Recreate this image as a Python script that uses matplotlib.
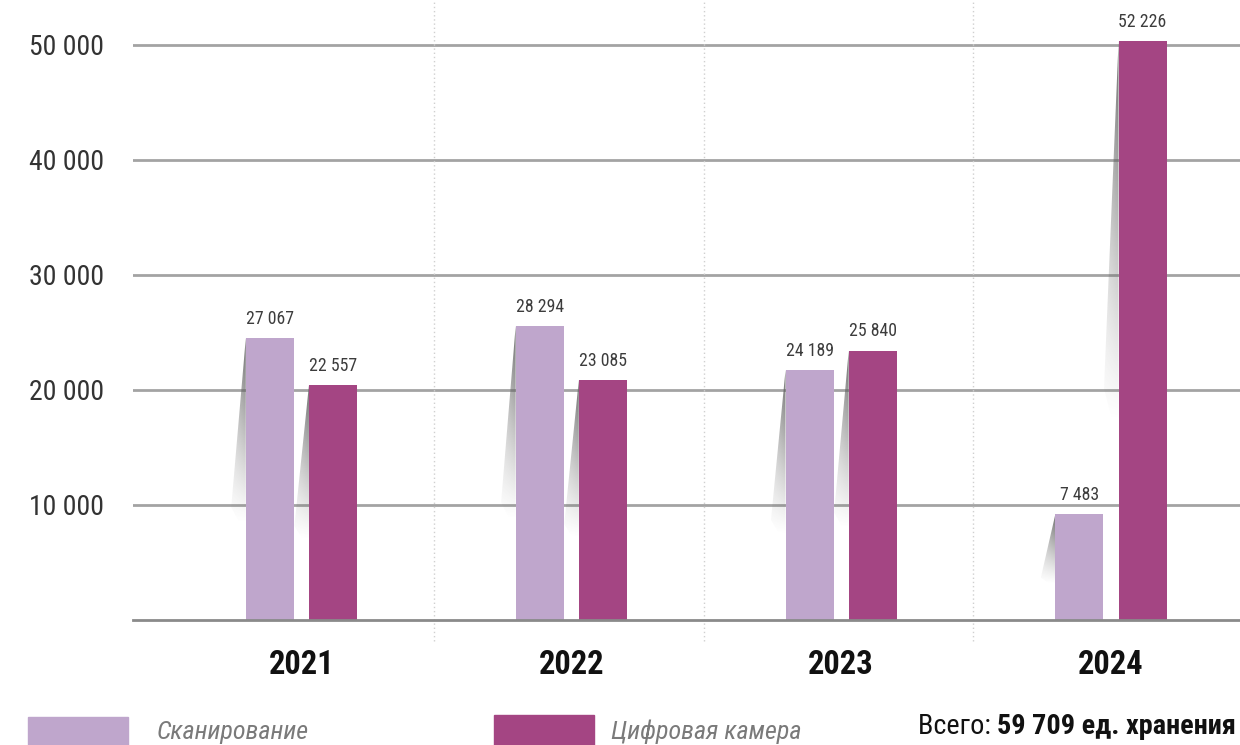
import numpy as np
import matplotlib
matplotlib.use('Agg')
import matplotlib.pyplot as plt
from matplotlib import font_manager
from matplotlib.patches import Polygon, Rectangle

# --- data ---
years = ['2021', '2022', '2023', '2024']
# bar heights as drawn in the picture (the drawing is not to scale with the labels)
scan_heights = [24520, 25570, 21740, 9220]
camera_heights = [20430, 20870, 23400, 50350]
# value labels printed above the bars
scan_labels = ['27 067', '28 294', '24 189', '7 483']
camera_labels = ['22 557', '23 085', '25 840', '52 226']
y_ticks = [10000, 20000, 30000, 40000, 50000]
y_tick_labels = ['10 000', '20 000', '30 000', '40 000', '50 000']
series_names = ['Сканирование', 'Цифровая камера']
total_prefix = 'Всего: '
total_text = '59 709 ед. хранения'

scan_color = '#bfa6cc'
camera_color = '#a44583'
grid_color = '#a3a3a3'

# look for a narrow family, the original uses a condensed face
found = []
for f in font_manager.fontManager.ttflist:
    low = f.fname.lower()
    if 'narrow' in low or 'condensed' in low or f.stretch in ('condensed', 'semi-condensed'):
        found.append(f.name)
narrow = None
for cand in ['Liberation Sans Narrow', 'Roboto Condensed', 'Open Sans Condensed',
             'DejaVu Sans Condensed', 'Noto Sans Condensed']:
    if cand in found:
        narrow = cand
        break
if narrow is None and found:
    narrow = found[0]
fam = [narrow, 'Liberation Sans', 'DejaVu Sans'] if narrow else ['Liberation Sans', 'DejaVu Sans']
plt.rcParams['font.family'] = fam
plt.rcParams['font.stretch'] = 'condensed'
scale = 1.0 if narrow else 0.88

fig = plt.figure(figsize=(12.4, 7.45), dpi=100)
ax = fig.add_axes([133 / 1240, 125 / 745, 1 - 133 / 1240, 620 / 745])

x = np.arange(len(years))
offset = 0.117
width = 0.178

ax.set_xlim(-0.624, 3.478)
ax.set_ylim(0, 53913)

# grid and baseline
for v in y_ticks:
    ax.axhline(v, color=grid_color, lw=2, zorder=0)
ax.axhline(0, color='#8a8a8a', lw=2, zorder=3, clip_on=False)

# dotted separators between years
for s in x[:-1] + 0.49:
    ax.plot([s, s], [-1800, 53913], color='#d0d0d0', lw=1, ls=(0, (1, 2)),
            clip_on=False, zorder=0)

bars_scan = ax.bar(x - offset, scan_heights, width, color=scan_color, zorder=2)
bars_cam = ax.bar(x + offset, camera_heights, width, color=camera_color, zorder=2)

# soft gray shadow wedges on the left of each bar
ny, nx = 64, 16
yy = np.linspace(0, 1, ny)[:, None]
xx = np.linspace(0, 1, nx)[None, :]
grad = np.zeros((ny, nx, 4))
grad[..., :3] = 0.38
grad[..., 3] = 0.9 * yy ** 1.1 * (0.6 + 0.4 * xx)
dx = 0.054
for bar in list(bars_scan) + list(bars_cam):
    xl = bar.get_x()
    h = bar.get_height()
    poly = Polygon([(xl, h), (xl - dx, 0.40 * h), (xl - dx * 0.4, 0.34 * h), (xl, 0.34 * h)],
                   closed=True, transform=ax.transData, facecolor='none', edgecolor='none')
    ax.add_patch(poly)
    im = ax.imshow(grad, extent=[xl - dx, xl, 0.34 * h, h], origin='lower',
                   aspect='auto', zorder=1, interpolation='bilinear')
    im.set_clip_path(poly)

ax.set_xlim(-0.624, 3.478)
ax.set_ylim(0, 53913)

# value labels
for bars, labels in [(bars_scan, scan_labels), (bars_cam, camera_labels)]:
    for bar, lab in zip(bars, labels):
        ax.annotate(lab, (bar.get_x() + bar.get_width() / 2, bar.get_height()),
                    xytext=(0, 14), textcoords='offset points', ha='center', va='center',
                    fontsize=12.8 * scale, color='#3c3c3c')

ax.set_yticks(y_ticks)
ax.set_yticklabels(y_tick_labels, fontsize=20 * scale, color='#333333')
ax.set_xticks(x)
ax.set_xticklabels(years, fontsize=23.5 * scale, fontweight='bold', color='#111111')
ax.tick_params(axis='y', length=0, pad=21)
ax.tick_params(axis='x', length=0, pad=21)
for sp in ax.spines.values():
    sp.set_visible(False)

# legend at the bottom
fig.patches.append(Rectangle((28 / 1240, 0), 100 / 1240, 28 / 745,
                             transform=fig.transFigure, color=scan_color))
fig.patches.append(Rectangle((494 / 1240, 0), 100 / 1240, 30 / 745,
                             transform=fig.transFigure, color=camera_color))
fig.text(157 / 1240, 13 / 745, series_names[0], fontsize=18.8 * scale, style='italic',
         color='#7a7a7a', va='center', ha='left')
fig.text(611 / 1240, 13 / 745, series_names[1], fontsize=18.8 * scale, style='italic',
         color='#7a7a7a', va='center', ha='left')

t_bold = fig.text(1236 / 1240, 18 / 745, total_text, fontsize=20.3 * scale, fontweight='bold',
                  color='#111111', va='center', ha='right')
r = fig.canvas.get_renderer()
bb = t_bold.get_window_extent(renderer=r)
fig.text(bb.x0 / 1240, 18 / 745, total_prefix, fontsize=20.3 * scale, color='#111111',
         va='center', ha='right')

fig.savefig('out.png', dpi=100)
